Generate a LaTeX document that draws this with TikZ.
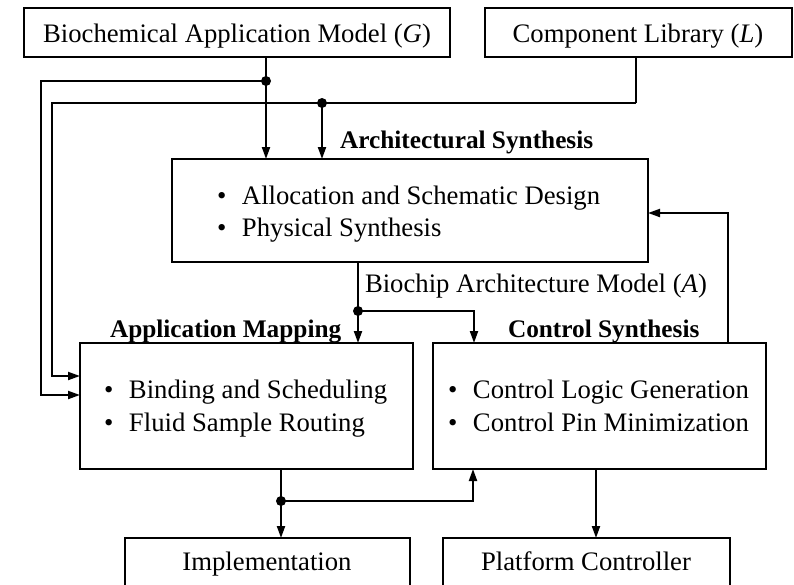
\documentclass[tikz,border=0pt]{standalone}
\usepackage{fontspec}
\setmainfont{Liberation Serif}
\usetikzlibrary{arrows.meta}
\newcommand{\figfont}{\fontsize{26.7}{32}\selectfont}
\newcommand{\headfont}{\fontsize{25.3}{30}\selectfont\bfseries}
\newcommand{\itm}[1]{\makebox[25pt][l]{\textbullet}#1}
\begin{document}
\begin{tikzpicture}[x=1pt,y=-1pt]
\tikzset{
  box/.style={draw, line width=2pt, anchor=north west, inner sep=0pt, outer sep=0pt},
  lbl/.style={inner sep=0pt, outer sep=0pt, font=\figfont},
  head/.style={inner sep=0pt, outer sep=0pt, font=\headfont, anchor=base west},
  wire/.style={line width=2pt},
  arr/.style={wire, -{Triangle[length=12pt,width=8pt]}},
  junction/.style={circle, fill=black, inner sep=0pt, minimum size=10pt}
}
\useasboundingbox (0,0) rectangle (794,584);
\fill[white] (0,0) rectangle (794,584);

% boxes
\node[box, minimum width=426pt, minimum height=49pt] (G) at (24,8) {};
\node[box, minimum width=307pt, minimum height=49pt] (L) at (485,8) {};
\node[box, minimum width=476pt, minimum height=103pt] (A) at (172,159) {};
\node[box, minimum width=333pt, minimum height=126pt] (M) at (80,343) {};
\node[box, minimum width=333pt, minimum height=126pt] (C) at (433,343) {};
\node[box, minimum width=285pt, minimum height=60pt] (I) at (125,538) {};
\node[box, minimum width=287pt, minimum height=60pt] (P) at (443,538) {};

% texts
\node[lbl, anchor=base] (tG) at (237,42) {Biochemical Application Model (\textit{G})};
\node[lbl, anchor=base] (tL) at (638,42) {Component Library (\textit{L})};
\node[head] (hA) at (340,148) {Architectural Synthesis};
\node[lbl, anchor=base west] (a1) at (217,204) {\itm{Allocation and Schematic Design}};
\node[lbl, anchor=base west] (a2) at (217,236) {\itm{Physical Synthesis}};
\node[lbl, anchor=base west] (tA) at (365,292) {Biochip Architecture Model (\textit{A})};
\node[head] (hM) at (110,337) {Application Mapping};
\node[head] (hC) at (508,337) {Control Synthesis};
\node[lbl, anchor=base west] (m1) at (104,398) {\itm{Binding and Scheduling}};
\node[lbl, anchor=base west] (m2) at (104,431) {\itm{Fluid Sample Routing}};
\node[lbl, anchor=base west] (c1) at (448,398) {\itm{Control Logic Generation}};
\node[lbl, anchor=base west] (c2) at (448,431) {\itm{Control Pin Minimization}};
\node[lbl, anchor=base] (tI) at (267,570) {Implementation};
\node[lbl, anchor=base] (tP) at (586,570) {Platform Controller};

% junctions and bends
\coordinate (jG) at (266,81);
\coordinate (bG) at (41,395);
\coordinate (cL) at (636,103);
\coordinate (jL) at (322,103);
\coordinate (bL) at (52,376);
\coordinate (jA) at (358,311);
\coordinate (cA) at (474,311);
\coordinate (jM) at (281,501);
\coordinate (cM) at (473,501);
\coordinate (xP) at (596,0);
\coordinate (cF) at (728,213);

% application model G
\draw[wire] (G.south -| jG) -- (jG);
\draw[arr] (jG) -- (jG |- A.north);
\draw[arr] (jG) -| (bG) -- (M.west |- bG);
% component library L
\draw[wire] (L.south -| cL) -- (cL);
\draw[arr] (cL) -| (bL) -- (M.west |- bL);
\draw[arr] (jL) -- (jL |- A.north);
% architecture model A
\draw[wire] (A.south -| jA) -- (jA);
\draw[arr] (jA) -- (jA |- M.north);
\draw[arr] (jA) -- (cA) -- (cA |- C.north);
% mapping results
\draw[wire] (M.south -| jM) -- (jM);
\draw[arr] (jM) -- (jM |- I.north);
\draw[arr] (jM) -- (cM) -- (cM |- C.south);
% control synthesis
\draw[arr] (C.south -| xP) -- (P.north -| xP);
\draw[arr] (C.north -| cF) -- (cF) -- (A.east |- cF);

\node[junction] (dG) at (jG) {};
\node[junction] (dL) at (jL) {};
\node[junction] (dA) at (jA) {};
\node[junction] (dM) at (jM) {};
\end{tikzpicture}
\end{document}
